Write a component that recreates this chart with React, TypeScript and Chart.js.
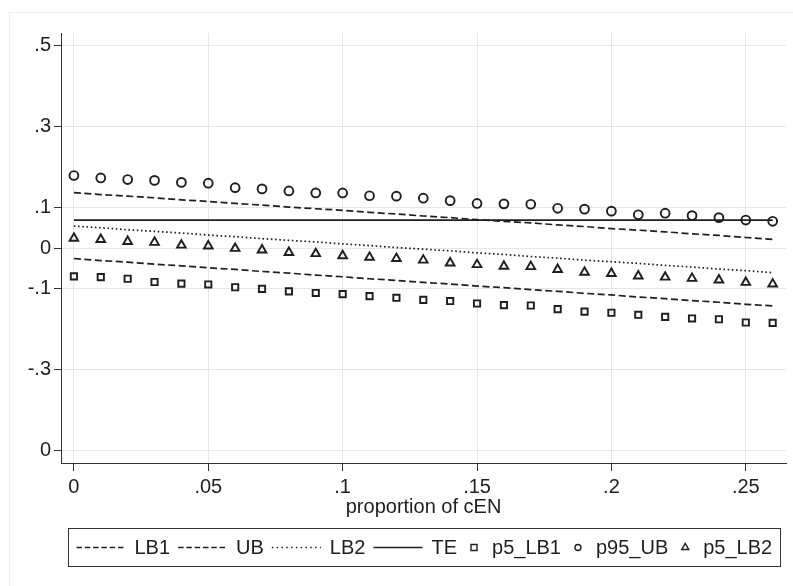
import React, { useEffect, useRef } from "react";
import { Chart, registerables } from "chart.js";

Chart.register(...registerables);

// ---- data ----
const xValues = [
  0, 0.01, 0.02, 0.03, 0.04, 0.05, 0.06, 0.07, 0.08, 0.09, 0.1, 0.11, 0.12, 0.13,
  0.14, 0.15, 0.16, 0.17, 0.18, 0.19, 0.2, 0.21, 0.22, 0.23, 0.24, 0.25, 0.26,
];
const xTickValues = [0, 0.05, 0.1, 0.15, 0.2, 0.25];
const xTickLabels = ["0", ".05", ".1", ".15", ".2", ".25"];
const yTickValues = [-0.5, -0.3, -0.1, 0, 0.1, 0.3, 0.5];
const yTickLabels = ["0", "-.3", "-.1", "0", ".1", ".3", ".5"];

const LB1 = [
  -0.026, -0.031, -0.035, -0.04, -0.044, -0.049, -0.053, -0.058, -0.062, -0.067,
  -0.071, -0.076, -0.08, -0.085, -0.089, -0.094, -0.098, -0.103, -0.107, -0.112,
  -0.116, -0.121, -0.125, -0.13, -0.134, -0.139, -0.143,
];
const UB = [
  0.137, 0.132, 0.128, 0.124, 0.119, 0.115, 0.11, 0.106, 0.101, 0.097, 0.093,
  0.088, 0.084, 0.079, 0.075, 0.07, 0.066, 0.062, 0.057, 0.053, 0.048, 0.044,
  0.04, 0.035, 0.031, 0.026, 0.021,
];
const LB2 = [
  0.054, 0.05, 0.045, 0.041, 0.037, 0.032, 0.028, 0.023, 0.019, 0.015, 0.01,
  0.006, 0.001, -0.003, -0.007, -0.012, -0.016, -0.021, -0.025, -0.03, -0.034,
  -0.038, -0.043, -0.047, -0.052, -0.056, -0.061,
];
const TE = [
  0.069, 0.069, 0.069, 0.069, 0.069, 0.069, 0.069, 0.069, 0.069, 0.069, 0.069,
  0.069, 0.069, 0.069, 0.069, 0.069, 0.069, 0.069, 0.069, 0.069, 0.069, 0.069,
  0.069, 0.069, 0.069, 0.069, 0.069,
];
const p5_LB1 = [
  -0.07, -0.072, -0.076, -0.084, -0.088, -0.09, -0.097, -0.101, -0.107, -0.111,
  -0.114, -0.119, -0.123, -0.128, -0.131, -0.137, -0.141, -0.142, -0.151, -0.157,
  -0.16, -0.165, -0.17, -0.174, -0.176, -0.184, -0.185,
];
const p95_UB = [
  0.179, 0.173, 0.169, 0.167, 0.162, 0.16, 0.149, 0.146, 0.141, 0.136, 0.136,
  0.129, 0.128, 0.123, 0.117, 0.11, 0.109, 0.108, 0.098, 0.096, 0.091, 0.082,
  0.086, 0.08, 0.075, 0.069, 0.066,
];
const p5_LB2 = [
  0.024, 0.021, 0.016, 0.014, 0.007, 0.005, -0.001, -0.005, -0.011, -0.014,
  -0.019, -0.023, -0.026, -0.03, -0.037, -0.041, -0.045, -0.046, -0.053, -0.06,
  -0.063, -0.069, -0.072, -0.075, -0.079, -0.085, -0.089,
];

const FONT_FAMILY = '"Liberation Sans", Arial, Helvetica, sans-serif';
const FONT_SIZE = 20;
const INK = "#1e1e1e";

const pts = (ys: number[]) => xValues.map((x, i) => ({ x, y: ys[i] }));

const bgPlugin = {
  id: "bgPlugin",
  beforeDraw(chart: any) {
    const { ctx, width, height } = chart;
    ctx.save();
    ctx.fillStyle = "#ffffff";
    ctx.fillRect(0, 0, width, height);
    ctx.strokeStyle = "#eeeeee";
    ctx.lineWidth = 1;
    ctx.beginPath();
    ctx.moveTo(9.5, height);
    ctx.lineTo(9.5, 12.5);
    ctx.lineTo(width, 12.5);
    ctx.stroke();
    ctx.restore();
  },
};

const legendPlugin = {
  id: "stataLegend",
  afterDraw(chart: any) {
    const { ctx, chartArea } = chart;
    const datasets = chart.data.datasets;
    ctx.save();
    ctx.font = `${FONT_SIZE}px ${FONT_FAMILY}`;
    const gapST = 9;
    const gapItem = 8;
    const padX = 8;
    const items = datasets.map((ds: any) => ({
      ds,
      tw: ctx.measureText(ds.label).width,
      sw: ds.showLine === false ? 18 : 49,
    }));
    const total =
      items.reduce((s: number, it: any) => s + it.sw + gapST + it.tw, 0) +
      gapItem * (items.length - 1);
    const boxW = Math.round(total + 2 * padX);
    const cx = (chartArea.left + chartArea.right) / 2;
    const boxL = Math.round(cx - boxW / 2) + 0.5;
    const boxT = Math.round(chartArea.bottom + 65) + 0.5;
    const boxH = 38;
    ctx.strokeStyle = "#333333";
    ctx.lineWidth = 1;
    ctx.setLineDash([]);
    ctx.strokeRect(boxL, boxT, boxW, boxH);
    const midY = boxT + boxH / 2;
    let x = boxL + padX;
    for (const it of items) {
      const ds = it.ds;
      ctx.strokeStyle = INK;
      ctx.lineWidth = 1.5;
      if (ds.showLine !== false) {
        ctx.setLineDash(ds.borderDash && ds.borderDash.length ? [5.5, 2.8].map((v, k) => (ds.borderDash[0] < 3 ? (k === 0 ? 1.5 : 3.3) : v)) : []);
        ctx.beginPath();
        ctx.moveTo(x, midY);
        ctx.lineTo(x + it.sw, midY);
        ctx.stroke();
        ctx.setLineDash([]);
      } else {
        const mx = x + it.sw / 2;
        const r = 3;
        ctx.lineWidth = 1.4;
        ctx.beginPath();
        if (ds.pointStyle === "rect") {
          ctx.rect(mx - r, midY - r, 2 * r, 2 * r);
        } else if (ds.pointStyle === "circle") {
          ctx.arc(mx, midY, r, 0, Math.PI * 2);
        } else {
          const rr = r * 1.35;
          ctx.moveTo(mx, midY - rr);
          ctx.lineTo(mx + rr * 0.866, midY + rr / 2);
          ctx.lineTo(mx - rr * 0.866, midY + rr / 2);
          ctx.closePath();
        }
        ctx.stroke();
      }
      ctx.fillStyle = INK;
      ctx.textBaseline = "middle";
      ctx.textAlign = "left";
      ctx.fillText(ds.label, x + it.sw + gapST, midY + 1);
      x += it.sw + gapST + it.tw + gapItem;
    }
    ctx.restore();
  },
};

export default function App() {
  const ref = useRef<HTMLCanvasElement>(null);
  useEffect(() => {
    const lineDs = (label: string, ys: number[], dash: number[]) => ({
      label,
      data: pts(ys),
      borderColor: INK,
      borderWidth: 1.7,
      borderDash: dash,
      pointRadius: 0,
      fill: false,
      tension: 0,
    });
    const markDs = (label: string, ys: number[], style: string, r: number) => ({
      label,
      data: pts(ys),
      showLine: false,
      pointStyle: style,
      pointRadius: r,
      pointBorderWidth: 1.9,
      pointBorderColor: INK,
      pointBackgroundColor: "rgba(0,0,0,0)",
      borderColor: INK,
    });
    const tickFont = { family: FONT_FAMILY, size: FONT_SIZE };
    const chart = new Chart(ref.current as HTMLCanvasElement, {
      type: "line",
      data: {
        datasets: [
          lineDs("LB1", LB1, [7, 3.5]),
          lineDs("UB", UB, [7, 3.5]),
          lineDs("LB2", LB2, [1.6, 2.6]),
          lineDs("TE", TE, []),
          markDs("p5_LB1", p5_LB1, "rect", 4.4),
          markDs("p95_UB", p95_UB, "circle", 4.4),
          markDs("p5_LB2", p5_LB2, "triangle", 5),
        ] as any,
      },
      options: {
        animation: false,
        responsive: true,
        maintainAspectRatio: false,
        devicePixelRatio: 1,
        layout: { padding: { left: 0, top: 33, right: 6, bottom: 63 } },
        plugins: {
          legend: { display: false },
          tooltip: { enabled: false },
        },
        scales: {
          x: {
            type: "linear",
            min: -0.0048,
            max: 0.265,
            afterBuildTicks: (s: any) => {
              s.ticks = xTickValues.map((v) => ({ value: v }));
            },
            afterFit: (s: any) => {
              s.height = 60;
            },
            ticks: {
              callback: (_v: any, i: number) => xTickLabels[i],
              font: tickFont,
              color: INK,
              padding: 4,
              maxRotation: 0,
              autoSkip: false,
            },
            grid: {
              color: "#e6e6e6",
              lineWidth: 1,
              tickColor: "#333333",
              tickLength: 8,
            },
            border: { display: true, color: "#333333", width: 1 },
            title: {
              display: true,
              text: "proportion of cEN",
              font: tickFont,
              color: INK,
              padding: { top: 0, bottom: 4 },
            },
          },
          y: {
            type: "linear",
            min: -0.531,
            max: 0.531,
            afterBuildTicks: (s: any) => {
              s.ticks = yTickValues.map((v) => ({ value: v }));
            },
            afterFit: (s: any) => {
              s.width = 61;
            },
            ticks: {
              callback: (_v: any, i: number) => yTickLabels[i],
              font: tickFont,
              color: INK,
              padding: 3,
              autoSkip: false,
            },
            grid: {
              color: "#e6e6e6",
              lineWidth: 1,
              tickColor: "#333333",
              tickLength: 7,
            },
            border: { display: true, color: "#333333", width: 1 },
          },
        },
      } as any,
      plugins: [bgPlugin, legendPlugin],
    });
    return () => chart.destroy();
  }, []);
  return (
    <div
      style={{
        position: "absolute",
        left: 0,
        top: 0,
        width: 793,
        height: 586,
        background: "#ffffff",
      }}
    >
      <canvas ref={ref} />
    </div>
  );
}
